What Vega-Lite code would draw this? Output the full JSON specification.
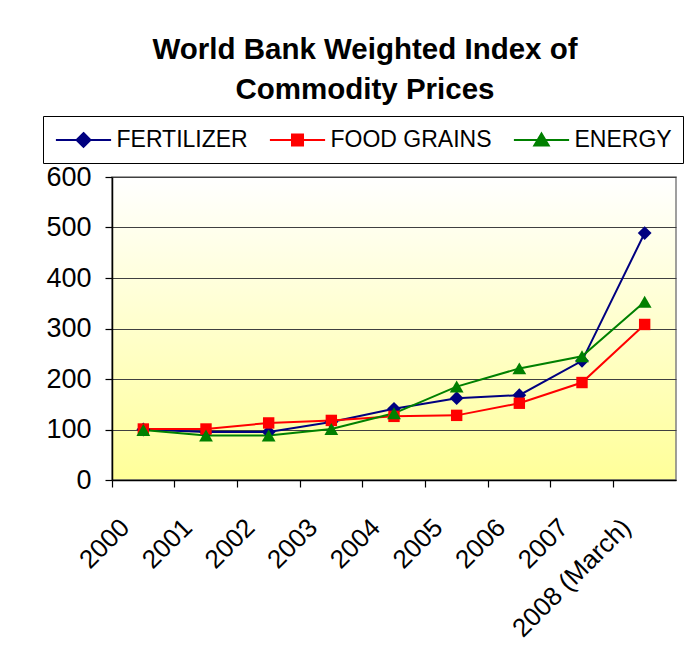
{
 "$schema": "https://vega.github.io/schema/vega-lite/v6.json",
 "width": 564, "height": 303,
 "autosize": {"type": "none"},
 "padding": {"left": 112, "top": 177, "right": 20, "bottom": 169},
 "background": "#ffffff",
 "title": {"text": ["World Bank Weighted Index of", "Commodity Prices"], "font": "Liberation Sans", "fontSize": 29.5, "fontWeight": "bold", "color": "#000000", "anchor": "middle", "lineHeight": 40, "offset": 10, "dx": -29},
 "config": {
  "font": "Liberation Sans",
  "view": {"stroke": "#808080", "strokeWidth": 1.5, "fill": {"gradient": "linear", "x1": 0, "y1": 0, "x2": 0, "y2": 1, "stops": [{"offset": 0, "color": "#ffffff"}, {"offset": 1, "color": "#ffff99"}]}},
  "axis": {"labelColor": "#000000", "labelFont": "Liberation Sans", "tickColor": "#000000", "domainColor": "#000000", "domainWidth": 1.5, "tickWidth": 1.2},
  "legend": {"orient": "none", "legendX": -69, "legendY": -61, "direction": "horizontal", "gridAlign": "none", "labelFontSize": 23, "labelFont": "Liberation Sans", "labelColor": "#000000", "labelLimit": 400, "symbolSize": 576, "symbolStrokeWidth": 2, "symbolOpacity": 1, "symbolOffset": 16.5, "labelOffset": 20, "columnPadding": 17, "padding": 11, "strokeColor": "#000000", "fillColor": "#ffffff"}
 },
 "data": {"values": [
  {"year": "2000", "series": "FERTILIZER", "value": 100},
  {"year": "2001", "series": "FERTILIZER", "value": 95},
  {"year": "2002", "series": "FERTILIZER", "value": 95},
  {"year": "2003", "series": "FERTILIZER", "value": 115},
  {"year": "2004", "series": "FERTILIZER", "value": 141},
  {"year": "2005", "series": "FERTILIZER", "value": 162},
  {"year": "2006", "series": "FERTILIZER", "value": 168},
  {"year": "2007", "series": "FERTILIZER", "value": 236},
  {"year": "2008 (March)", "series": "FERTILIZER", "value": 489},
  {"year": "2000", "series": "FOOD GRAINS", "value": 101},
  {"year": "2001", "series": "FOOD GRAINS", "value": 101},
  {"year": "2002", "series": "FOOD GRAINS", "value": 113},
  {"year": "2003", "series": "FOOD GRAINS", "value": 118},
  {"year": "2004", "series": "FOOD GRAINS", "value": 126},
  {"year": "2005", "series": "FOOD GRAINS", "value": 128},
  {"year": "2006", "series": "FOOD GRAINS", "value": 152},
  {"year": "2007", "series": "FOOD GRAINS", "value": 193},
  {"year": "2008 (March)", "series": "FOOD GRAINS", "value": 308},
  {"year": "2000", "series": "ENERGY", "value": 99},
  {"year": "2001", "series": "ENERGY", "value": 88},
  {"year": "2002", "series": "ENERGY", "value": 88},
  {"year": "2003", "series": "ENERGY", "value": 101},
  {"year": "2004", "series": "ENERGY", "value": 132},
  {"year": "2005", "series": "ENERGY", "value": 185},
  {"year": "2006", "series": "ENERGY", "value": 221},
  {"year": "2007", "series": "ENERGY", "value": 245},
  {"year": "2008 (March)", "series": "ENERGY", "value": 353}
 ]},
 "encoding": {
  "x": {"field": "year", "type": "ordinal", "sort": null, "scale": {"type": "band", "paddingInner": 0, "paddingOuter": 0},
        "axis": {"title": null, "bandPosition": 0, "labelAngle": -45, "labelAlign": "right", "labelBaseline": "middle", "labelFontSize": 26, "labelPadding": 36, "labelOffset": -18, "labelOverlap": false, "labelBound": false, "tickSize": 7, "grid": false}},
  "y": {"field": "value", "type": "quantitative", "scale": {"domain": [0, 600], "nice": false},
        "axis": {"title": null, "values": [0, 100, 200, 300, 400, 500, 600], "labelFontSize": 27, "labelPadding": 14, "tickSize": 7, "grid": true, "gridColor": "#404040", "gridWidth": 1}}
 },
 "layer": [
  {"mark": {"type": "line", "strokeWidth": 2},
   "encoding": {"color": {"field": "series", "type": "nominal", "scale": {"domain": ["FERTILIZER", "FOOD GRAINS", "ENERGY", "-"], "range": ["#000080", "#ff0000", "#008000", "#000000"]}, "legend": null}}},
  {"mark": {"type": "point", "filled": true, "opacity": 1},
   "encoding": {
    "color": {"field": "series", "type": "nominal", "legend": null},
    "shape": {"condition": [{"test": "datum.series === 'FERTILIZER'", "value": "diamond"}, {"test": "datum.series === 'FOOD GRAINS'", "value": "square"}], "value": "triangle-up"},
    "size": {"condition": [{"test": "datum.series === 'FERTILIZER'", "value": 190}, {"test": "datum.series === 'FOOD GRAINS'", "value": 130}], "value": 190}
   }},
  {"transform": [{"filter": "false"}],
   "mark": {"type": "point", "filled": true, "opacity": 1, "strokeWidth": 2},
   "encoding": {
    "fill": {"field": "series", "type": "nominal", "title": null, "scale": {"domain": ["FERTILIZER", "FOOD GRAINS", "ENERGY"], "range": ["#000080", "#ff0000", "#008000"]}},
    "stroke": {"field": "series", "type": "nominal", "title": null, "scale": {"domain": ["FERTILIZER", "FOOD GRAINS", "ENERGY"], "range": ["#000080", "#ff0000", "#008000"]}},
    "shape": {"field": "series", "type": "nominal", "title": null, "scale": {"domain": ["FERTILIZER", "FOOD GRAINS", "ENERGY"], "range": ["M-2.3,0H2.3M0,-0.58L0.58,0L0,0.58L-0.58,0Z", "M-2.3,0H2.3M-0.46,-0.46H0.46V0.46H-0.46Z", "M-2.3,0H2.3M0,-0.55L0.6,0.45L-0.6,0.45Z"]}}
   }}
 ]
}
